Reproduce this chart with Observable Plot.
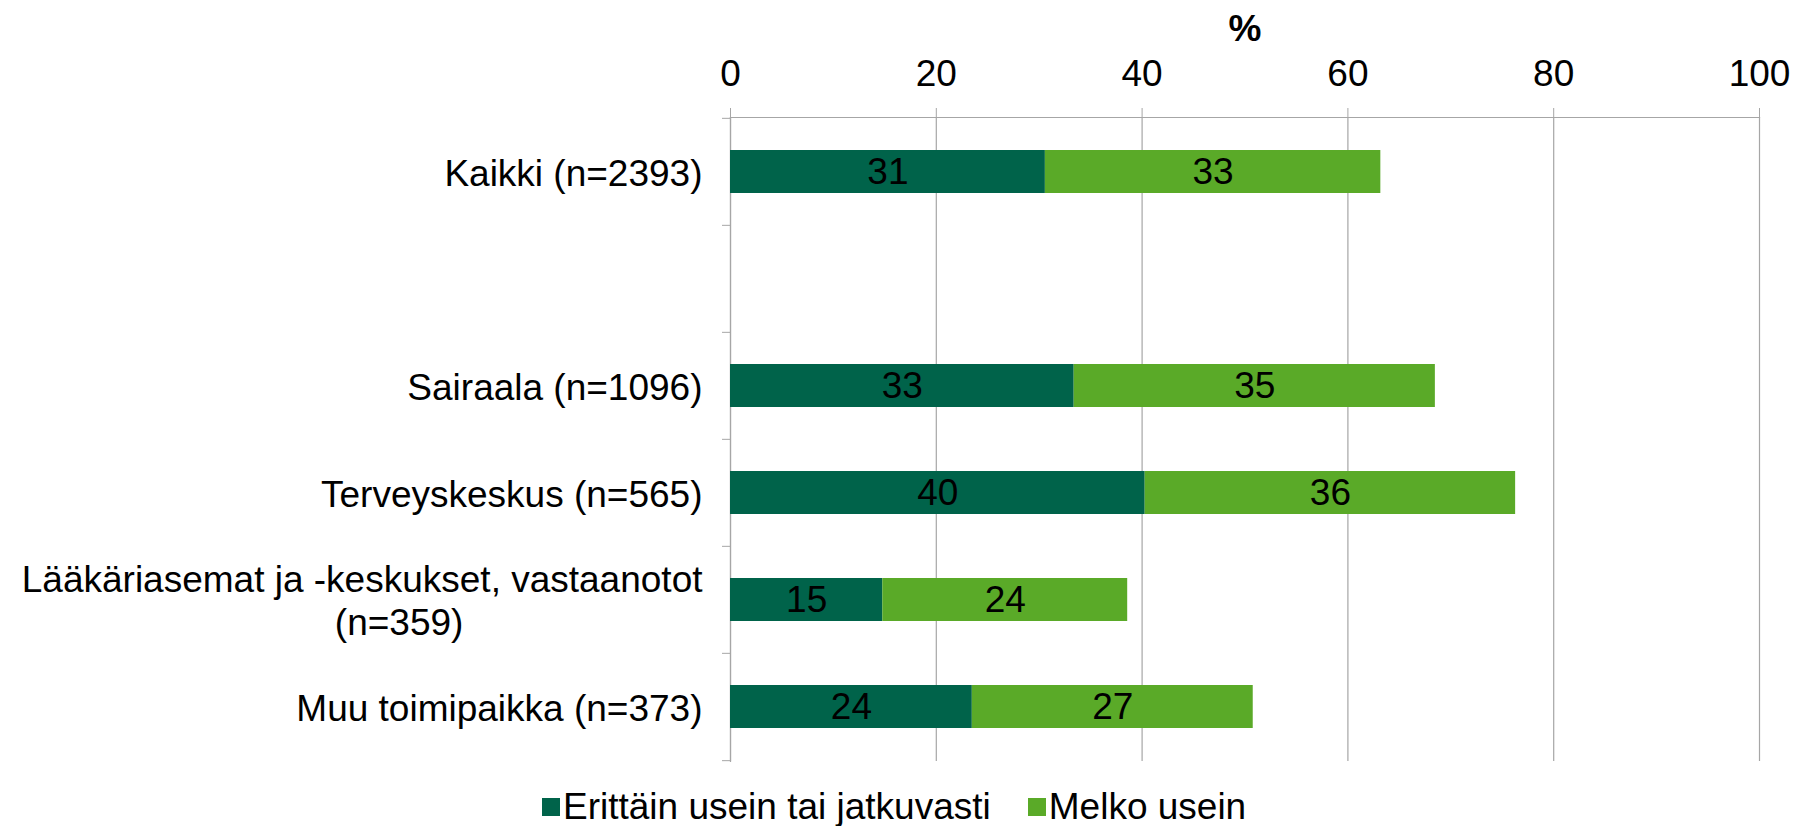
<!DOCTYPE html>
<html>
<head>
<meta charset="utf-8">
<script src="https://cdn.jsdelivr.net/npm/d3@7"></script>
<script src="https://cdn.jsdelivr.net/npm/@observablehq/plot@0.6"></script>
<style>
  body { margin: 0; background: #fff; font-family: "Liberation Sans", Arial, sans-serif; }
  #legend { display: flex; align-items: center; height: 40px; margin-top: 19px; padding-left: 542px; font-size: 37px; color: #000; }
  #legend .item { display: flex; align-items: center; margin-right: 37px; }
  #legend .sw { width: 18px; height: 18px; margin-right: 3px; }
</style>
</head>
<body>
<div id="chart"></div>
<div id="legend"></div>
<script>
const categories = ["Kaikki (n=2393)", "", "Sairaala (n=1096)", "Terveyskeskus (n=565)", "Lääkäriasemat ja -keskukset, vastaanotot\n(n=359)", "Muu toimipaikka (n=373)"];
const series = ["Erittäin usein tai jatkuvasti", "Melko usein"];
const erittain = [30.6, null, 33.4, 40.3, 14.8, 23.5];
const melko = [32.6, null, 35.1, 36.0, 23.8, 27.3];
const colors = ["#00634A", "#5AAA28"];
const xTicks = [0, 20, 40, 60, 80, 100];

const rows = [];
categories.forEach((c, i) => {
  if (erittain[i] != null) rows.push({cat: c, series: series[0], value: erittain[i]});
  if (melko[i] != null) rows.push({cat: c, series: series[1], value: melko[i]});
});

const W = 1808, H = 768, mt = 117, mb = 7, ml = 730, mr = 49;
const step = (H - mt - mb) / categories.length;
const grid = "#A6A6A6";
const font = "Liberation Sans, Arial, sans-serif";

const chart = Plot.plot({
  width: W, height: H,
  marginTop: mt, marginBottom: mb, marginLeft: ml, marginRight: mr,
  style: {fontSize: "37px", fontFamily: font, color: "#000", background: "#fff"},
  x: {domain: [0, 100]},
  y: {domain: categories, paddingInner: 0.6, paddingOuter: 0.3, label: null},
  color: {domain: series, range: colors},
  marks: [
    Plot.gridX(xTicks, {stroke: grid, strokeOpacity: 1, strokeWidth: 1.2}),
    Plot.frame({anchor: "top", stroke: grid, strokeWidth: 1.2}),
    Plot.frame({anchor: "left", stroke: grid, strokeWidth: 1.2}),
    Plot.axisX({anchor: "top", ticks: xTicks, tickSize: 10, tickPadding: 22, stroke: grid, fill: "#000",
      label: "%", labelArrow: false, labelAnchor: "center", labelOffset: 103}),
    Plot.axisY({anchor: "left", ticks: categories, tickSize: 8, text: null, label: null, stroke: grid, dy: -step / 2}),
    Plot.axisY({anchor: "left", ticks: categories.slice(-1), tickSize: 8, text: null, label: null, stroke: grid, dy: step / 2}),
    Plot.axisY({anchor: "left", tickSize: 0, tickPadding: 28, fill: "#000", lineHeight: 1.15, label: null,
      tickFormat: d => d}),
    Plot.barX(rows, Plot.stackX({x: "value", y: "cat", fill: "series", order: series})),
    Plot.text(rows, Plot.stackX({x: "value", y: "cat", z: "series", order: series,
      text: d => String(Math.round(d.value)), fill: "#000", fontSize: 37}))
  ]
});
document.getElementById("chart").appendChild(chart);

// bold "%" axis label
chart.querySelectorAll("text").forEach(t => {
  if (t.textContent.trim() === "%") t.setAttribute("font-weight", "bold");
});

// center wrapped lines of the multi-line category label (as in the original)
const done = new Set();
function centerLines(t) {
  if (done.has(t)) return;
  const ts = t.querySelectorAll("tspan");
  if (ts.length < 2) return;
  done.add(t);
  const w0 = ts[0].getComputedTextLength();
  t.setAttribute("text-anchor", "middle");
  ts.forEach((s, k) => {
    const x0 = +(s.getAttribute("x") || 0);
    s.setAttribute("x", x0 - w0 / 2 + (k > 0 ? 37 : 0));
  });
}
chart.querySelectorAll("text[text-anchor='end']").forEach(centerLines);
chart.querySelectorAll("g[text-anchor='end'] text").forEach(centerLines);

const legend = document.getElementById("legend");
series.forEach((s, i) => {
  const it = document.createElement("div");
  it.className = "item";
  it.innerHTML = `<div class="sw" style="background:${colors[i]}"></div><span>${s}</span>`;
  legend.appendChild(it);
});
</script>
</body>
</html>
